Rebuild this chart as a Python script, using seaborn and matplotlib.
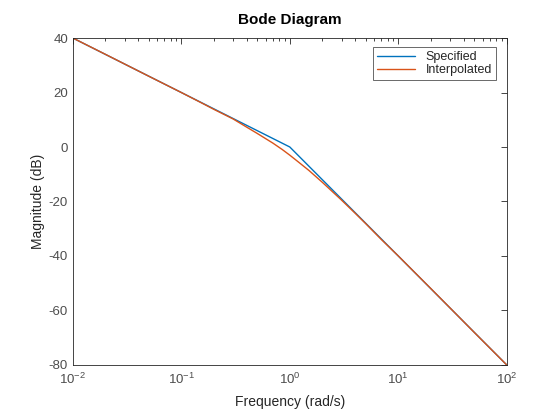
import matplotlib
matplotlib.use("Agg")
import matplotlib.pyplot as plt
import seaborn as sns
import pandas as pd
from matplotlib.ticker import LogLocator, NullFormatter

# Specified response (breakpoints)
spec_freq = [0.01, 1, 100]
spec_mag = [40, 0, -80]

# Interpolated response
interp_freq = [0.01, 0.02, 0.05, 0.1, 0.15, 0.2, 0.3, 0.4, 0.5, 0.7, 0.85,
               1, 1.2, 1.5, 2, 3, 4, 5, 7, 10, 20, 50, 100]
interp_mag = [40.0, 34.0, 26.0, 20.0, 16.4, 13.8, 10.3, 7.3, 5.0, 1.4, -0.9,
              -3.0, -5.5, -8.6, -13.0, -19.5, -24.3, -28.1, -34.0, -40.0,
              -52.0, -68.0, -80.0]

df = pd.concat([
    pd.DataFrame({"freq": spec_freq, "mag": spec_mag, "series": "Specified"}),
    pd.DataFrame({"freq": interp_freq, "mag": interp_mag, "series": "Interpolated"}),
])

sns.set_style("white")
plt.rcParams["font.family"] = ["Liberation Sans", "DejaVu Sans"]
plt.rcParams["axes.unicode_minus"] = False
plt.rcParams["mathtext.fontset"] = "custom"
plt.rcParams["mathtext.rm"] = "Liberation Sans"
plt.rcParams["mathtext.default"] = "regular"

fig = plt.figure(figsize=(5.6, 4.2), dpi=100)
ax = fig.add_axes([0.130, 0.131, 0.775, 0.7785])

sns.lineplot(data=df, x="freq", y="mag", hue="series",
             palette={"Specified": "#0072BD", "Interpolated": "#D95319"},
             linewidth=1.0, ax=ax, sort=False)

ax.set_xscale("log")
ax.set_xlim(0.01, 100)
ax.set_ylim(-80, 40)
ax.set_yticks(range(-80, 41, 20))
ax.xaxis.set_minor_locator(LogLocator(base=10, subs=range(2, 10)))
ax.xaxis.set_minor_formatter(NullFormatter())

for s in ax.spines.values():
    s.set_color("#262626")
    s.set_linewidth(0.6)
ax.tick_params(which="both", direction="in", top=True, right=True,
               colors="#262626", labelcolor="#4d4d4d", labelsize=9.5, width=0.6)
ax.tick_params(which="major", length=4)
ax.tick_params(which="minor", length=2)
ax.tick_params(axis="x", pad=5)

ax.set_xlabel("Frequency (rad/s)", fontsize=10, color="#262626", labelpad=6)
ax.set_ylabel("Magnitude (dB)", fontsize=10, color="#262626", labelpad=3)
ax.set_title("Bode Diagram", fontsize=11, fontweight="bold", color="#000000",
             pad=10)

leg = ax.legend(loc="upper right", fontsize=9, frameon=True, fancybox=False,
                borderpad=0.3, handlelength=3.0, handletextpad=0.9,
                labelspacing=0.1, borderaxespad=0.0,
                bbox_to_anchor=(0.975, 0.972))
leg.get_frame().set_edgecolor("#262626")
leg.get_frame().set_linewidth(0.6)

fig.savefig("out.png", dpi=100)
